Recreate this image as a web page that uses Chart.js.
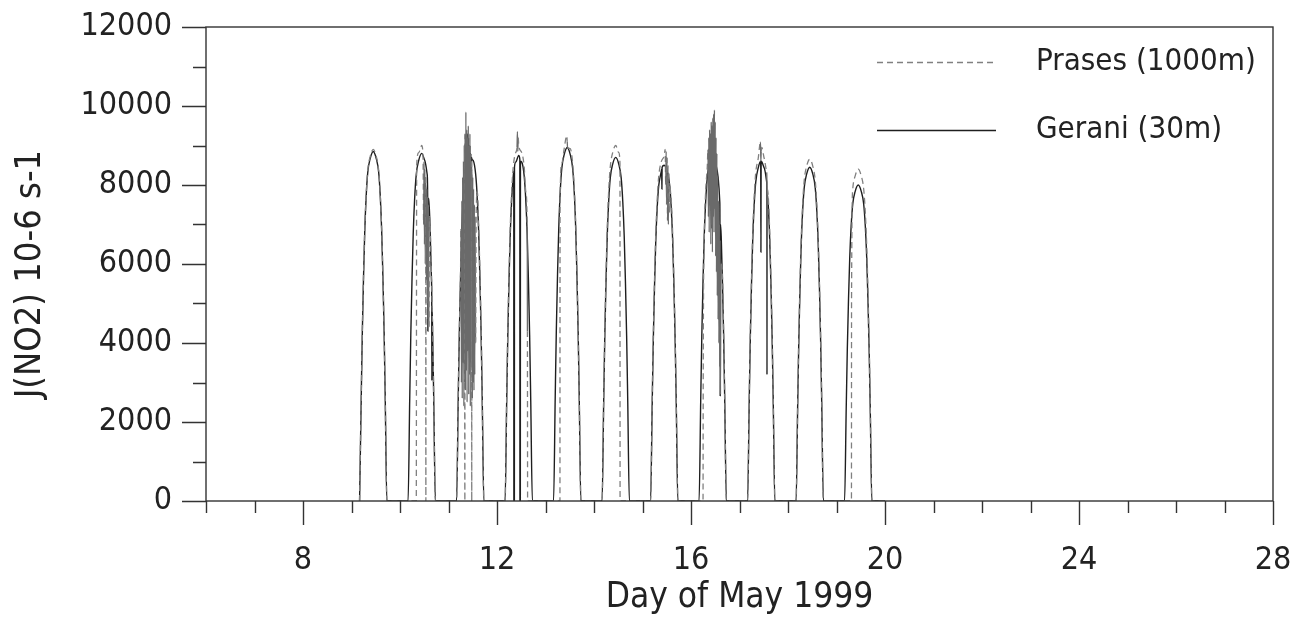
<!DOCTYPE html>
<html>
<head>
<meta charset="utf-8">
<script src="https://cdn.jsdelivr.net/npm/chart.js@4.4.0/dist/chart.umd.min.js"></script>
<style>
  html, body { margin: 0; padding: 0; background: #fff; }
  #wrap { width: 1295px; height: 619px; }
</style>
</head>
<body>
<div id="wrap"><canvas id="jno2"></canvas></div>
<script>
const FONT = "'DejaVu Sans Condensed', 'DejaVu Sans', sans-serif";

// sample hours (UTC) used for the smooth part of every day
const hours = [4.0, 4.8, 5.35, 5.95, 6.55, 7.25, 8.05, 9.25, 10.75, 12.25, 13.45, 14.25, 14.95, 15.55, 16.15, 16.7, 17.5];
const days = [9, 10, 11, 12, 13, 14, 15, 16, 17, 18, 19];

// Gerani (30m), one row per day, aligned with hours
const geraniDaily = [
    [0, 2570, 4250, 5660, 6810, 7700, 8320, 8670, 8850, 8670, 8320, 7700, 6810, 5660, 4250, 2570, 0],
    [0, 2550, 4220, 5630, 6780, 7660, 8270, 8620, 8800, 8620, 8270, 7660, 6780, 5630, 4220, 2550, 0],
    [0, 2550, 4220, 5630, 6780, 7660, 8270, null, null, 8620, 8270, 7660, 6780, 5630, 4220, 2550, 0],
    [0, 2540, 4200, 5600, 6740, 7610, 8230, 8580, 8750, 8580, 8230, 7610, 6740, 5600, 4200, 2540, 0],
    [0, 2600, 4300, 5730, 6890, 7790, 8410, 8770, 8950, 8770, 8410, 7790, 6890, 5730, 4300, 2600, 0],
    [0, 2520, 4180, 5570, 6700, 7570, 8180, 8530, 8700, 8530, 8180, 7570, 6700, 5570, 4180, 2520, 0],
    [0, 2470, 4080, 5440, 6550, 7400, 7990, 8330, 8500, 8330, 7990, 7400, 6550, 5440, 4080, 2470, 0],
    [0, 2520, 4180, 5570, 6700, 7570, 8180, 8530, null, 8530, 8180, 7570, 6700, 5570, 4180, 2520, 0],
    [0, 2490, 4130, 5500, 6620, 7480, 8080, 8430, 8600, 8430, 8080, 7480, 6620, 5500, 4130, 2490, 0],
    [0, 2450, 4060, 5410, 6510, 7350, 7940, 8280, 8450, 8280, 7940, 7350, 6510, 5410, 4060, 2450, 0],
    [0, 2320, 3840, 5120, 6160, 6960, 7520, 7840, 8000, 7840, 7520, 6960, 6160, 5120, 3840, 2320, 0]
];

// Prases (1000m)
const prasesDaily = [
    [0, 2580, 4270, 5700, 6850, 7740, 8370, 8720, 8900, 8720, 8370, 7740, 6850, 5700, 4270, 2580, 0],
    [0, 0, 0, 0, 0, 0, 0, 8820, 9000, null, null, null, 6930, 5760, 4320, 2610, 0],
    [0, 2610, 4320, 5760, null, null, null, null, null, null, null, 7830, 6930, 5760, 4320, 2610, 0],
    [0, 2610, 4320, 5760, 6930, 7830, 8460, 8820, 9000, 8820, 8460, 7830, 6930, 0, 0, 0, 0],
    [0, 0, 0, 0, 0, null, 8550, 8920, 9100, 8920, 8550, 7920, 7010, 5820, 4370, 2640, 0],
    [0, 2610, 4320, 5760, 6930, 7830, 8460, 8820, 9000, 8820, 0, 0, 0, 0, 0, 0, 0],
    [0, 2540, 4200, 5600, 6740, 7610, 8230, 8580, 8750, null, null, 7610, 6740, 5600, 4200, 2540, 0],
    [0, 0, 0, 0, 6600, 7830, 8460, null, null, null, null, null, null, 5760, 4320, 2610, 0],
    [0, 2570, 4250, 5660, 6810, 7700, 8320, 8670, 8850, 8670, 8320, 7700, 6810, 5660, 4250, 2570, 0],
    [0, 2510, 4150, 5540, 6660, 7530, 8130, 8480, 8650, 8480, 8130, 7530, 6660, 5540, 4150, 2510, 0],
    [0, 0, 0, 0, 0, 0, 7900, 8230, 8400, 8230, 7900, 7310, 6470, 5380, 4030, 2440, 0]
];

// extra samples [day, hour, value]: dips, spikes and noisy stretches
const geraniExtra = [
    [10, 13.7, 7600], [10, 13.8, 4300], [10, 13.9, 7400], [10, 15.7, 5200], [10, 15.78, 3050], [10, 15.86, 4900],
    [11, 9.1, 8500], [11, 9.3, 9300], [11, 9.45, 6500], [11, 9.6, 9100], [11, 9.75, 6900], [11, 9.9, 9200],
    [11, 10.05, 6200], [11, 10.2, 8950], [11, 10.4, 7400], [11, 10.6, 9000], [11, 10.8, 6700], [11, 11.0, 8800],
    [11, 11.2, 7300], [11, 11.4, 8700], [11, 11.6, 8650],
    [12, 8.3, 8350], [12, 8.35, 0], [12, 8.6, 0], [12, 8.65, 8450],
    [12, 11.3, 8650], [12, 11.35, 0], [12, 11.55, 0], [12, 11.6, 8600],
    [15, 9.5, 8400], [15, 9.6, 7900], [15, 9.7, 8450],
    [16, 10.2, 8100], [16, 10.35, 6900], [16, 10.5, 8650], [16, 10.65, 7300], [16, 11.0, 8700],
    [16, 14.3, 7400], [16, 14.45, 2650], [16, 14.6, 7000],
    [17, 10.5, 8600], [17, 10.6, 6300], [17, 10.7, 8550], [17, 13.5, 7900], [17, 13.6, 3200], [17, 13.7, 7800],
    [19, 24, 0]
];

const prasesExtra = [
    [10, 8.25, 8500],
    [10, 11.4, 8700], [10, 11.7, 7000], [10, 11.9, 8600], [10, 12.1, 6500], [10, 12.3, 8400], [10, 12.5, 6000],
    [10, 12.7, 8200], [10, 12.8, 0], [10, 12.9, 8000], [10, 13.1, 5600], [10, 13.3, 7900], [10, 13.5, 5000],
    [10, 13.7, 7700], [10, 13.9, 4600], [10, 14.1, 7500], [10, 14.3, 4400], [10, 14.6, 7200],
    [11, 6.2, 6900], [11, 6.4, 3000], [11, 6.6, 7600], [11, 6.8, 2600], [11, 7.0, 8200], [11, 7.2, 3500],
    [11, 7.4, 8600], [11, 7.6, 2400], [11, 7.8, 9000], [11, 8.0, 3000], [11, 8.1, 0], [11, 8.2, 9300],
    [11, 8.4, 2800], [11, 8.6, 9850], [11, 8.8, 3300], [11, 9.0, 9400], [11, 9.2, 2500], [11, 9.4, 9200],
    [11, 9.6, 3800], [11, 9.8, 9500], [11, 10.0, 2700], [11, 10.2, 9000], [11, 10.4, 3200], [11, 10.6, 9300],
    [11, 10.8, 2400], [11, 11.0, 8800], [11, 11.2, 3500], [11, 11.4, 8600], [11, 11.5, 0], [11, 11.6, 8400],
    [11, 11.8, 2600], [11, 12.0, 8200], [11, 12.2, 3000], [11, 12.4, 7900], [11, 12.6, 2800], [11, 12.8, 7500],
    [11, 13.0, 3200], [11, 13.2, 7200], [11, 13.4, 4000], [11, 13.7, 7300],
    [12, 9.9, 8950], [12, 10.1, 9350], [12, 10.3, 8850], [12, 10.5, 9200], [12, 15.05, 4300], [12, 15.15, 0],
    [13, 7.15, 0], [13, 7.2, 7500], [13, 10.5, 9250], [13, 10.9, 8950],
    [14, 12.85, 8550], [14, 12.9, 0],
    [15, 11.2, 8900], [15, 11.5, 8000], [15, 11.7, 8850], [15, 11.9, 7500], [15, 12.1, 8700], [15, 12.4, 7100],
    [15, 12.6, 8500], [15, 12.8, 7000], [15, 13.0, 8300], [15, 13.3, 7300], [15, 13.6, 8000], [15, 13.9, 7800],
    [16, 6.05, 3300],
    [16, 8.4, 8900], [16, 8.6, 7200], [16, 8.8, 9200], [16, 9.0, 6800], [16, 9.2, 9400], [16, 9.4, 7500],
    [16, 9.6, 9300], [16, 9.8, 6500], [16, 10.0, 9600], [16, 10.2, 7000], [16, 10.4, 9500], [16, 10.6, 6300],
    [16, 10.8, 9700], [16, 11.0, 7200], [16, 11.2, 9800], [16, 11.4, 6800], [16, 11.6, 9900], [16, 11.8, 7400],
    [16, 12.0, 9600], [16, 12.2, 6200], [16, 12.4, 9200], [16, 12.6, 5800], [16, 12.8, 8800], [16, 13.0, 5200],
    [16, 13.2, 8200], [16, 13.4, 4600], [16, 13.6, 7600], [16, 13.8, 4000], [16, 14.0, 7000], [16, 14.2, 3400],
    [16, 14.4, 6600], [16, 14.6, 2700], [16, 14.8, 6000],
    [17, 10.4, 9100], [17, 10.55, 8600], [17, 11.0, 8950], [17, 13.55, 8100], [17, 13.65, 3300], [17, 13.75, 7900],
    [19, 7.4, 0], [19, 7.45, 5100], [19, 24, 0]
];

const xMin = 6, xMax = 28;
const yMin = 0, yMax = 12000;
const xLabelTicks = [8, 12, 16, 20, 24, 28];
const yLabelStep = 2000;

function buildSeries(daily, extra) {
    const pts = [];
    days.forEach((d, i) => {
        daily[i].forEach((v, j) => {
            if (v !== null) pts.push({ x: d + hours[j] / 24, y: v });
        });
    });
    extra.forEach(([d, h, v]) => pts.push({ x: d + h / 24, y: v }));
    return pts.sort((a, b) => a.x - b.x);
}

// closely spaced, non-zero samples = noisy stretch, drawn solid and darker
function isNoisy(c) {
    return c.p0.parsed.y > 0 && c.p1.parsed.y > 0 && (c.p1.parsed.x - c.p0.parsed.x) < 0.0095;
}

// box, tick marks, y title and legend drawn by hand
const framePlugin = {
    id: 'frame',
    afterDraw(chart) {
        const { ctx, chartArea: a, scales: { x, y } } = chart;
        ctx.save();
        ctx.strokeStyle = '#333';
        ctx.lineWidth = 1.4;
        ctx.strokeRect(a.left, a.top, a.right - a.left, a.bottom - a.top);
        ctx.beginPath();
        x.ticks.forEach(t => {
            const px = Math.round(x.getPixelForValue(t.value)) + 0.5;
            const len = xLabelTicks.includes(t.value) ? 24 : 12;
            ctx.moveTo(px, a.bottom);
            ctx.lineTo(px, a.bottom + len);
        });
        y.ticks.forEach(t => {
            const py = Math.round(y.getPixelForValue(t.value)) + 0.5;
            const len = t.value % yLabelStep === 0 ? 24 : 13;
            ctx.moveTo(a.left - len, py);
            ctx.lineTo(a.left, py);
        });
        ctx.stroke();

        // y axis title
        ctx.save();
        ctx.translate(31, 274);
        ctx.rotate(-Math.PI / 2);
        ctx.fillStyle = '#222';
        ctx.font = '36px ' + FONT;
        ctx.textAlign = 'center';
        ctx.textBaseline = 'middle';
        ctx.fillText('J(NO2) 10-6 s-1', 0, 0);
        ctx.restore();

        // legend
        const lx0 = a.right - 396, lx1 = a.right - 277, tx = a.right - 237;
        const rows = [a.top + 35, a.top + 103];
        chart.data.datasets.forEach((ds, i) => {
            ctx.beginPath();
            ctx.strokeStyle = ds.borderColor;
            ctx.lineWidth = 1.3;
            ctx.setLineDash(ds.borderDash || []);
            ctx.moveTo(lx0, rows[i] + 0.5);
            ctx.lineTo(lx1, rows[i] + 0.5);
            ctx.stroke();
            ctx.setLineDash([]);
            ctx.fillStyle = '#222';
            ctx.font = '31px ' + FONT;
            ctx.textBaseline = 'middle';
            ctx.textAlign = 'left';
            ctx.fillText(ds.label, tx, rows[i]);
        });
        ctx.restore();
    }
};

new Chart(document.getElementById('jno2'), {
    type: 'line',
    data: {
        datasets: [
            {
                label: 'Prases (1000m)',
                data: buildSeries(prasesDaily, prasesExtra),
                borderColor: '#808080',
                borderWidth: 1.3,
                borderDash: [6, 4],
                pointRadius: 0,
                cubicInterpolationMode: 'monotone',
                segment: {
                    borderDash: c => isNoisy(c) ? [] : undefined,
                    borderColor: c => isNoisy(c) ? '#6a6a6a' : undefined
                },
                order: 0
            },
            {
                label: 'Gerani (30m)',
                data: buildSeries(geraniDaily, geraniExtra),
                borderColor: '#1e1e1e',
                borderWidth: 1.4,
                pointRadius: 0,
                cubicInterpolationMode: 'monotone',
                order: 1
            }
        ]
    },
    options: {
        responsive: true,
        maintainAspectRatio: false,
        devicePixelRatio: 1,
        animation: false,
        layout: { padding: { top: 27, right: 22, left: 0, bottom: 0 } },
        plugins: { legend: { display: false }, tooltip: { enabled: false } },
        scales: {
            x: {
                type: 'linear',
                min: xMin,
                max: xMax,
                grid: { display: false, drawTicks: false },
                border: { display: false },
                afterFit: s => {
                    s.height = 118;
                    s.paddingLeft = 0;
                    s.paddingRight = 0;
                },
                ticks: {
                    stepSize: 1,
                    autoSkip: false,
                    maxRotation: 0,
                    padding: 40,
                    color: '#222',
                    font: { family: FONT, size: 32 },
                    callback: v => xLabelTicks.includes(v) ? String(v) : ''
                },
                title: {
                    display: true,
                    text: 'Day of May 1999',
                    color: '#222',
                    font: { family: FONT, size: 35 },
                    padding: { top: 0, bottom: 0 }
                }
            },
            y: {
                min: yMin,
                max: yMax,
                grid: { display: false, drawTicks: false },
                border: { display: false },
                afterFit: s => {
                    s.width = 206;
                    s.paddingTop = 0;
                    s.paddingBottom = 0;
                },
                ticks: {
                    stepSize: 1000,
                    autoSkip: false,
                    padding: 34,
                    color: '#222',
                    font: { family: FONT, size: 32 },
                    callback: v => v % yLabelStep === 0 ? String(v) : ''
                }
            }
        }
    },
    plugins: [framePlugin]
});
</script>
</body>
</html>
